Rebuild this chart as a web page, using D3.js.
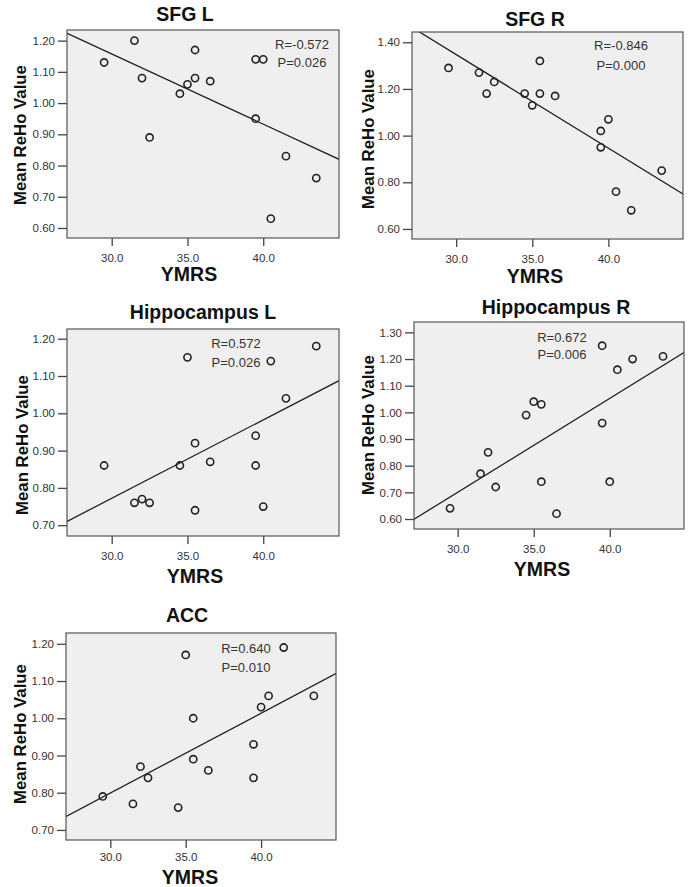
<!DOCTYPE html>
<html>
<head>
<meta charset="utf-8">
<script src="https://cdn.jsdelivr.net/npm/d3@7"></script>
<style>
  html, body { margin: 0; padding: 0; background: #fff; }
  svg { display: block; font-family: "Liberation Sans", Arial, sans-serif; }
</style>
</head>
<body>
<svg id="chart" width="690" height="887"></svg>
<script>
// ---- data ----
const ymrs   = [29.5, 31.5, 32, 32.5, 34.5, 35, 35.5, 35.5, 36.5, 39.5, 39.5, 40, 40.5, 41.5, 43.5];
const sfgL   = [1.13, 1.20, 1.08, 0.89, 1.03, 1.06, 1.17, 1.08, 1.07, 0.95, 1.14, 1.14, 0.63, 0.83, 0.76];
const sfgR   = [1.29, 1.27, 1.18, 1.23, 1.18, 1.13, 1.32, 1.18, 1.17, 0.95, 1.02, 1.07, 0.76, 0.68, 0.85];
const hippoL = [0.86, 0.76, 0.77, 0.76, 0.86, 1.15, 0.92, 0.74, 0.87, 0.94, 0.86, 0.75, 1.14, 1.04, 1.18];
const hippoR = [0.64, 0.77, 0.85, 0.72, 0.99, 1.04, 1.03, 0.74, 0.62, 0.96, 1.25, 0.74, 1.16, 1.20, 1.21];
const acc    = [0.79, 0.77, 0.87, 0.84, 0.76, 1.17, 1.00, 0.89, 0.86, 0.93, 0.84, 1.03, 1.06, 1.19, 1.06];

const titles  = ["SFG L", "SFG R", "Hippocampus L", "Hippocampus R", "ACC"];
const series  = [sfgL, sfgR, hippoL, hippoR, acc];
const rLabels = ["R=-0.572", "R=-0.846", "R=0.572", "R=0.672", "R=0.640"];
const pLabels = ["P=0.026", "P=0.000", "P=0.026", "P=0.006", "P=0.010"];
const xTicks  = [30, 35, 40];
const yTicks  = [
  [0.60, 0.70, 0.80, 0.90, 1.00, 1.10, 1.20],
  [0.60, 0.80, 1.00, 1.20, 1.40],
  [0.70, 0.80, 0.90, 1.00, 1.10, 1.20],
  [0.60, 0.70, 0.80, 0.90, 1.00, 1.10, 1.20, 1.30],
  [0.70, 0.80, 0.90, 1.00, 1.10, 1.20]
];
// fitted regression line values at YMRS = 27 and YMRS = 45
const fitX    = [27, 45];
const fitAt27 = [1.2248, 1.4677, 0.709, 0.5944, 0.7347];
const fitAt45 = [0.8200, 0.7460, 1.0875, 1.2292, 1.1207];

// ---- layout (positions only) ----
const layout = [
  { box: [67, 30, 339, 238],  xd: [27.05, 45.0],  yd: [0.568, 1.234], title: [185, 14],  ylab: [20, 135],  xlab: [189, 274], rp: [302, 44, 18], pad: 8 },
  { box: [412, 32, 683, 239], xd: [27.1, 44.9],   yd: [0.557, 1.444], title: [535, 19],  ylab: [368, 139], xlab: [535, 276], rp: [621, 45, 20], pad: 8 },
  { box: [67, 329, 339, 536], xd: [27.05, 45.0],  yd: [0.671, 1.226], title: [203, 312], ylab: [22, 445],  xlab: [195, 576], rp: [236, 343, 19], pad: 8 },
  { box: [414, 322, 684, 529],xd: [27.13, 44.88], yd: [0.5625, 1.339],title: [556, 307], ylab: [368, 425], xlab: [542, 569], rp: [562, 337, 17], pad: 8 },
  { box: [66, 633, 336, 840], xd: [27.06, 44.97], yd: [0.673, 1.229], title: [187, 615], ylab: [20, 734],  xlab: [190, 877], rp: [246, 648, 19], pad: 5 }
];

const svg = d3.select("#chart");
const defs = svg.append("defs");

layout.forEach((L, i) => {
  const [x0, y0, x1, y1] = L.box;
  const x = d3.scaleLinear().domain(L.xd).range([x0, x1]);
  const y = d3.scaleLinear().domain(L.yd).range([y1, y0]);
  const g = svg.append("g");

  defs.append("clipPath").attr("id", "clip" + i)
    .append("rect").attr("x", x0).attr("y", y0).attr("width", x1 - x0).attr("height", y1 - y0);

  // background
  g.append("rect").attr("x", x0).attr("y", y0).attr("width", x1 - x0).attr("height", y1 - y0)
    .attr("fill", "#efefef");

  // axes
  const yAxis = g.append("g").attr("transform", `translate(${x0},0)`)
    .call(d3.axisLeft(y).tickValues(yTicks[i]).tickFormat(d3.format(".2f")).tickSize(9).tickPadding(3));
  const xAxis = g.append("g").attr("transform", `translate(0,${y1})`)
    .call(d3.axisBottom(x).tickValues(xTicks).tickFormat(d3.format(".1f")).tickSize(8).tickPadding(L.pad));
  [yAxis, xAxis].forEach(a => {
    a.select(".domain").remove();
    a.selectAll(".tick line").attr("stroke", "#444").attr("stroke-width", 1.3);
    a.selectAll(".tick text").attr("fill", "#333").style("font-size", "11.5px");
  });

  // regression line
  g.append("line").attr("clip-path", `url(#clip${i})`)
    .attr("x1", x(fitX[0])).attr("y1", y(fitAt27[i]))
    .attr("x2", x(fitX[1])).attr("y2", y(fitAt45[i]))
    .attr("stroke", "#222").attr("stroke-width", 1.3);

  // points
  g.selectAll("circle.pt").data(ymrs.map((v, k) => [v, series[i][k]])).enter()
    .append("circle").attr("class", "pt")
    .attr("cx", d => x(d[0])).attr("cy", d => y(d[1])).attr("r", 3.6)
    .attr("fill", "none").attr("stroke", "#222").attr("stroke-width", 1.6);

  // frame
  g.append("rect").attr("x", x0).attr("y", y0).attr("width", x1 - x0).attr("height", y1 - y0)
    .attr("fill", "none").attr("stroke", "#555").attr("stroke-width", 1.2);

  // R / P text
  g.append("text").attr("x", L.rp[0]).attr("y", L.rp[1]).attr("text-anchor", "middle")
    .attr("dominant-baseline", "central").attr("fill", "#333").style("font-size", "13px").text(rLabels[i]);
  g.append("text").attr("x", L.rp[0]).attr("y", L.rp[1] + L.rp[2]).attr("text-anchor", "middle")
    .attr("dominant-baseline", "central").attr("fill", "#333").style("font-size", "13px").text(pLabels[i]);

  // title
  g.append("text").attr("x", L.title[0]).attr("y", L.title[1]).attr("text-anchor", "middle")
    .attr("dominant-baseline", "central").attr("font-weight", "bold").style("font-size", "19.5px")
    .attr("fill", "#111").text(titles[i]);

  // x label
  g.append("text").attr("x", L.xlab[0]).attr("y", L.xlab[1]).attr("text-anchor", "middle")
    .attr("dominant-baseline", "central").attr("font-weight", "bold").style("font-size", "19.5px")
    .attr("fill", "#111").text("YMRS");

  // y label
  g.append("text").attr("transform", `translate(${L.ylab[0]},${L.ylab[1]}) rotate(-90)`)
    .attr("text-anchor", "middle").attr("dominant-baseline", "central")
    .attr("font-weight", "bold").style("font-size", "16.8px").attr("fill", "#111").text("Mean ReHo Value");
});
</script>
</body>
</html>
